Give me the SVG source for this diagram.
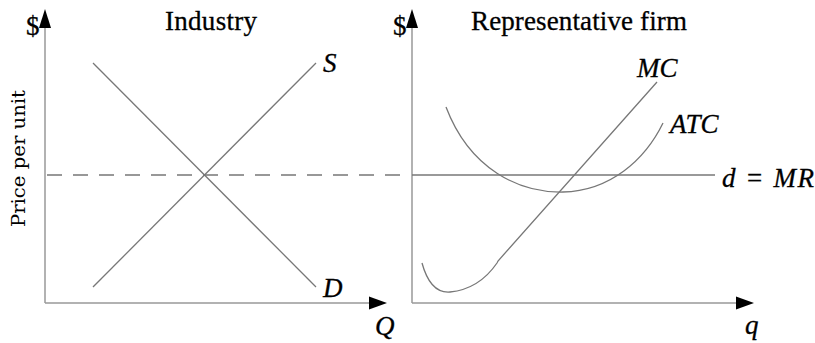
<svg xmlns="http://www.w3.org/2000/svg" width="815" height="343" viewBox="0 0 815 343">
<style>
.axis{stroke:#999;stroke-width:1.5;fill:none}
.curve{stroke:#777;stroke-width:1.3;fill:none}
.head{fill:#000}
.t{font-family:"Liberation Serif","Times New Roman",serif;font-size:27px;fill:#000;stroke:#000;stroke-width:0.3}
.i{font-family:"Liberation Serif","Times New Roman",serif;font-size:27px;font-style:italic;fill:#000;stroke:#000;stroke-width:0.3}
.v{font-family:"DejaVu Serif",serif;font-size:18px;fill:#000}
</style>
<rect width="815" height="343" fill="#fff"/>
<g id="industry-axes">
<line class="axis" x1="45" y1="303" x2="45" y2="26"/>
<line class="axis" x1="45" y1="303" x2="371" y2="303"/>
<polygon class="head" points="45,9 39,28 51,28"/>
<polygon class="head" points="387,303 369,296.5 369,309.5"/>
<text class="t" x="26" y="35">$</text>
<text class="t" x="165" y="30" textLength="92">Industry</text>
<text class="v" transform="translate(25,227) rotate(-90)" textLength="137" lengthAdjust="spacingAndGlyphs">Price per unit</text>
<text class="i" x="375" y="335">Q</text>
</g>
<g id="firm-axes">
<line class="axis" x1="412" y1="303" x2="412" y2="26"/>
<line class="axis" x1="412" y1="303" x2="738" y2="303"/>
<polygon class="head" points="412,9 406,28 418,28"/>
<polygon class="head" points="754,303 736,296.5 736,309.5"/>
<text class="t" x="393" y="35">$</text>
<text class="t" x="471" y="30" textLength="216">Representative firm</text>
<text class="i" x="745" y="334">q</text>
</g>
<g id="connectors">
<line class="curve" x1="47" y1="175" x2="400" y2="175" stroke-dasharray="15 11"/>
<line class="curve" x1="93" y1="287" x2="316" y2="63"/>
<line class="curve" x1="93" y1="63" x2="316" y2="287"/>
<line class="curve" x1="412" y1="175" x2="715" y2="175"/>
<path class="curve" d="M446,107 C470,170 520,193 563,192 C610,191 645,160 663,123"/>
<path class="curve" d="M422,263 C428,285 438,293 450,292 C470,290 486,279 497,263 L498,261 L657,82"/>
</g>
<g id="supply"><text class="i" x="323" y="72">S</text></g>
<g id="demand"><text class="i" x="323" y="297">D</text></g>
<g id="mc"><text class="i" x="637" y="77">MC</text></g>
<g id="atc"><text class="i" x="670" y="133">ATC</text></g>
<g id="mr"><text class="i" x="722" y="187" textLength="92">d = MR</text></g>
</svg>
